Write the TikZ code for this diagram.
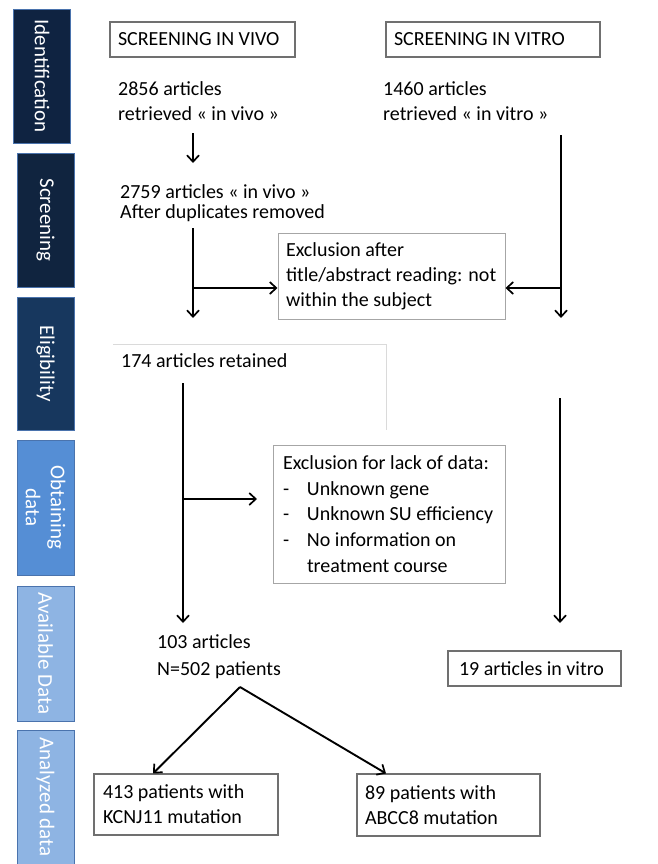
\documentclass[tikz,border=0pt]{standalone}
\usepackage{fontspec}
\setmainfont{Carlito}
\usetikzlibrary{arrows.meta}
\definecolor{navyA}{HTML}{0F2341}
\definecolor{navyB}{HTML}{10243F}
\definecolor{navyC}{HTML}{17375E}
\definecolor{blueD}{HTML}{558ED5}
\definecolor{blueE}{HTML}{8EB4E3}
\definecolor{sideline}{HTML}{4A73AD}
\definecolor{boxgray}{HTML}{707070}
\definecolor{exgray}{HTML}{A6A6A6}
\definecolor{faintgray}{HTML}{DADADA}
\newcommand\mfont{\fontsize{20}{25}\selectfont}
\newcommand\sfontx{\fontsize{21}{25}\selectfont}
\begin{document}
\begin{tikzpicture}[x=1pt,y=-1pt,
  side/.style={rotate=-90, text=white, font=\sfontx, inner sep=0pt,
    draw=sideline, line width=0.6pt, align=center, minimum height=57pt},
  fbox/.style={draw=boxgray, line width=1.1pt, font=\mfont, align=flush left,
    inner ysep=0pt},
  exbox/.style={draw=exgray, line width=1pt, font=\mfont, align=flush left,
    inner ysep=0pt},
  txt/.style={anchor=north west, inner sep=0pt, align=left},
  arr/.style={line width=1.9pt, -{Straight Barb[length=6.5pt,width=12pt,line width=1.7pt]}}
]
\useasboundingbox (0,0) rectangle (657,864);
\fill[white] (0,0) rectangle (657,864);

% sidebar
\node[side, fill=navyA, minimum width=134pt] (sIdent) at (42,76) {Identification};
\node[side, fill=navyB, minimum width=134pt] (sScreen) at (45.5,220) {Screening};
\node[side, fill=navyC, minimum width=133pt] (sElig) at (45.5,363.5) {Eligibility};
\node[side, fill=blueD, minimum width=135pt] (sObt) at (45.5,507.5) {Obtaining\\data};
\node[side, fill=blueE, minimum width=135pt] (sAvail) at (45.5,653.5) {Available Data};
\node[side, fill=blueE, minimum width=134pt] (sAnal) at (45.5,797) {Analyzed data};

% top boxes
\node[fbox, minimum width=185pt, minimum height=35pt, text width=169pt, inner xsep=8pt]
  (vivo) at (202.5,39.5) {\mbox{SCREENING IN VIVO}};
\node[fbox, minimum width=214pt, minimum height=35pt, text width=198pt, inner xsep=8pt]
  (vitro) at (493,39.5) {\mbox{SCREENING IN VITRO}};

% texts
\node[txt, font=\mfont] (t2856) at (118,77.5) {\strut 2856 articles\\retrieved « in vivo »};
\node[txt, font=\mfont] (t1460) at (383,77.5) {\strut 1460 articles\\retrieved « in vitro »};
\node[txt, font=\fontsize{20}{20}\selectfont] (t2759) at (120,184) {\strut 2759 articles « in vivo »\\After duplicates removed};
\node[txt, font=\mfont] (t174) at (121,349.5) {\strut 174 articles retained};
\node[txt, font=\fontsize{20}{27}\selectfont] (t103) at (157,629.1) {\strut 103 articles\\N=502 patients};

% exclusion boxes
\node[exbox, minimum width=227pt, minimum height=86pt, text width=211pt, inner xsep=8pt]
  (ex1) at (391.5,276) {\mbox{Exclusion after}\\\mbox{title/abstract reading: not}\\\mbox{within the subject}};
\node[exbox, minimum width=232pt, minimum height=138pt, text width=212pt, inner xsep=10pt,
  font=\fontsize{20}{25.7}\selectfont]
  (ex2) at (389,514) {\mbox{Exclusion for lack of data:}\\
  \mbox{\makebox[24pt][l]{-}Unknown gene}\\
  \mbox{\makebox[24pt][l]{-}Unknown SU efficiency}\\
  \mbox{\makebox[24pt][l]{-}No information on}\\
  \mbox{\hspace*{24pt}treatment course}};

% faint box around 174
\draw[faintgray, line width=0.8pt] (113,344) -- (386,344) -- (386,430);

% bottom boxes
\node[fbox, minimum width=173pt, minimum height=35pt, text width=151pt, inner xsep=11pt]
  (n19) at (534.5,668.5) {\mbox{19 articles in vitro}};
\node[fbox, minimum width=184pt, minimum height=61pt, text width=166pt, inner xsep=9pt]
  (b413) at (186,804.5) {\mbox{413 patients with}\\\mbox{KCNJ11 mutation}};
\node[fbox, minimum width=183pt, minimum height=62pt, text width=167pt, inner xsep=8pt]
  (b89) at (448.5,805) {\mbox{89 patients with}\\\mbox{ABCC8 mutation}};

% coordinates
\coordinate (a1s) at (193,133);
\coordinate (a1e) at (193,163);
\coordinate (l2s) at (193,228);
\coordinate (l2e) at (193,318);
\coordinate (j1) at (193,288);
\coordinate (r1s) at (561,135);
\coordinate (r1e) at (561,318);
\coordinate (j2) at (561,288);
\coordinate (l3s) at (183,383);
\coordinate (l3e) at (183,623);
\coordinate (j3) at (183,499);
\coordinate (j3e) at (257,499);
\coordinate (r2s) at (560,398);
\coordinate (r2e) at (560,623);
\coordinate (apex) at (240,687);
\coordinate (k1) at (153,0);
\coordinate (k2) at (386,0);

% connectors
\draw[arr] (a1s) -- (a1e);
\draw[arr] (l2s) -- (l2e);
\draw[arr] (j1) -- (j1 -| ex1.west);
\draw[arr] (r1s) -- (r1e);
\draw[arr] (j2) -- (j2 -| ex1.east);
\draw[arr] (l3s) -- (l3e);
\draw[arr] (j3) -- (j3e);
\draw[arr] (r2s) -- (r2e);
\draw[arr] (apex) -- (b413.north -| k1);
\draw[arr] (apex) -- (b89.north -| k2);
\end{tikzpicture}
\end{document}
